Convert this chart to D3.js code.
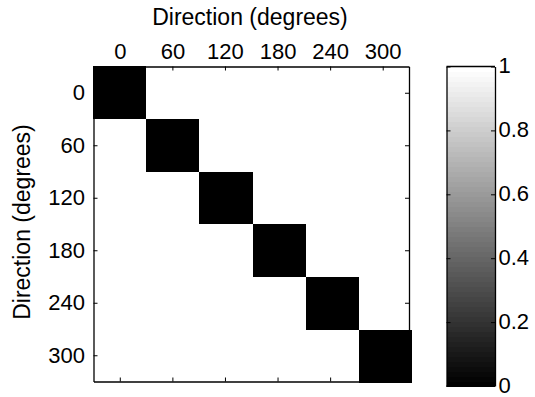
<!DOCTYPE html>
<html><head><meta charset="utf-8">
<script src="https://cdn.jsdelivr.net/npm/d3@7"></script>
<style>body{margin:0;background:#fff}svg{display:block}text{font-family:"Liberation Sans",Arial,sans-serif;fill:#000}</style>
</head><body><svg id="c" width="535" height="397"></svg>
<script>
const directions = [0, 60, 120, 180, 240, 300];
const values = [
  [0,1,1,1,1,1],
  [1,0,1,1,1,1],
  [1,1,0,1,1,1],
  [1,1,1,0,1,1],
  [1,1,1,1,0,1],
  [1,1,1,1,1,0]
];
const colorTicks = [0, 0.2, 0.4, 0.6, 0.8, 1];
const xTitle = "Direction (degrees)";
const yTitle = "Direction (degrees)";

const svg = d3.select("#c");
const fs = 22, tfs = 23;
const L = 93.5, R = 409, T = 66.5, B = 381.5;
const x = d3.scaleLinear().domain([-30, 330]).range([L, R]);
const y = d3.scaleLinear().domain([-30, 330]).range([T, B]);
// image extent slightly exceeds the axes box, as in the reference
const xi = d3.scaleLinear().domain([-30, 330]).range([93, 412]);
const yi = d3.scaleLinear().domain([-30, 330]).range([66, 382.7]);
const gray = v => { const l = Math.round(Math.floor(v * 63.999) / 63 * 255); return `rgb(${l},${l},${l})`; };

const cells = [];
values.forEach((row, i) => row.forEach((v, j) => cells.push({r: directions[i], c: directions[j], v})));
const g = svg.append("g");
g.selectAll("rect.cell").data(cells).join("rect")
  .attr("x", d => xi(d.c - 30)).attr("y", d => yi(d.r - 30))
  .attr("width", d => xi(d.c + 30) - xi(d.c - 30) + 0.3)
  .attr("height", d => yi(d.r + 30) - yi(d.r - 30) + 0.3)
  .attr("fill", d => gray(d.v)).attr("shape-rendering", "crispEdges");

// axes
const tl = 4;
const axTop = d3.axisTop(x).tickValues(directions).tickSizeInner(-tl).tickSizeOuter(0).tickPadding(8);
const axBot = d3.axisBottom(x).tickValues(directions).tickSizeInner(-tl).tickSizeOuter(0).tickFormat("");
const axLeft = d3.axisLeft(y).tickValues(directions).tickSizeInner(-tl).tickSizeOuter(0).tickPadding(8.5);
const axRight = d3.axisRight(y).tickValues(directions).tickSizeInner(-tl).tickSizeOuter(0).tickFormat("");
function style(sel){ sel.select(".domain").attr("stroke","#000").attr("stroke-width",1.3); sel.selectAll(".tick line").attr("stroke","#000"); sel.selectAll("text").attr("font-size",fs).attr("font-family","Liberation Sans, Arial, sans-serif"); }
svg.append("g").attr("transform",`translate(0,${T})`).call(axTop).call(style);
svg.append("g").attr("transform",`translate(0,${B})`).call(axBot).call(style);
svg.append("g").attr("transform",`translate(${L},0)`).call(axLeft).call(style);
svg.append("g").attr("transform",`translate(${R},0)`).call(axRight).call(style);

svg.append("text").attr("x", 250).attr("y", 25).attr("text-anchor","middle").attr("font-size",tfs).text(xTitle);
svg.append("text").attr("transform",`translate(29.5,222) rotate(-90)`).attr("text-anchor","middle").attr("font-size",tfs).text(yTitle);

// colorbar
const cL = 446.5, cR = 495, cT = 66.5, cB = 386;
const cy = d3.scaleLinear().domain([0,1]).range([cB, cT]);
const levels = d3.range(64).map(k => k/63);
svg.append("g").selectAll("rect").data(levels).join("rect")
  .attr("x", cL).attr("width", cR - cL)
  .attr("y", (d,k) => cy((k+1)/64)).attr("height", (d,k) => cy(k/64) - cy((k+1)/64) + 0.5)
  .attr("fill", d => gray(d)).attr("shape-rendering","crispEdges");
const cbR = d3.axisRight(cy).tickValues(colorTicks).tickFormat(d3.format("~g")).tickSizeInner(-tl).tickSizeOuter(0).tickPadding(3.5);
const cbL = d3.axisLeft(cy).tickValues(colorTicks).tickFormat("").tickSizeInner(-tl).tickSizeOuter(0);
svg.append("g").attr("transform",`translate(${cR},0)`).call(cbR).call(style).selectAll("text").attr("dy","0.28em");
svg.append("g").attr("transform",`translate(${cL},0)`).call(cbL).call(style);
svg.append("line").attr("x1",cL).attr("x2",cR).attr("y1",cT).attr("y2",cT).attr("stroke","#000").attr("stroke-width",1.3);
svg.append("line").attr("x1",cL).attr("x2",cR).attr("y1",cB).attr("y2",cB).attr("stroke","#000").attr("stroke-width",1.3);
</script></body></html>
